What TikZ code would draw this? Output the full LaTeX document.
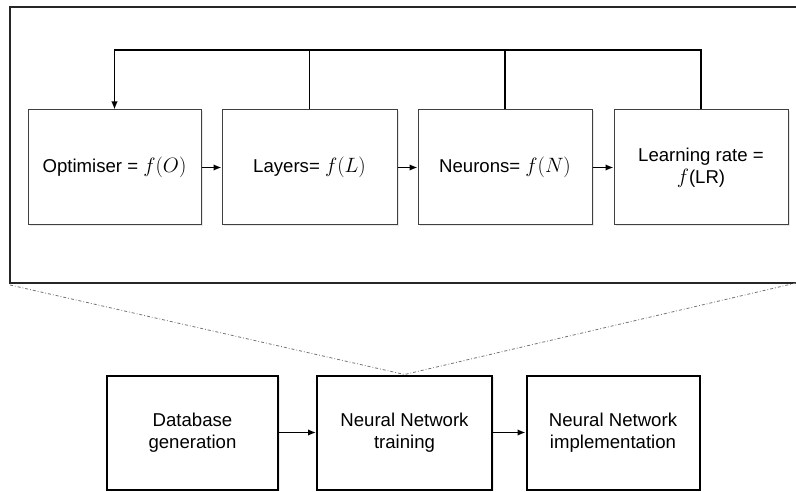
\documentclass[tikz,border=0pt]{standalone}
\usepackage{fontspec}
\setmainfont{Liberation Sans}
\usetikzlibrary{arrows.meta,shadows}
% math set a little larger to sit well beside the sans text
\newcommand{\fmath}[1]{{\fontsize{21}{22}\selectfont$#1$}}
\begin{document}
\begin{tikzpicture}[x=1pt,y=-1pt,
  font=\fontsize{18.6}{22}\selectfont,
  stage/.style={draw=black!75, line width=1pt, fill=white, align=center,
    minimum height=115pt, inner sep=2pt,
    drop shadow={opacity=0.18, shadow xshift=1.5pt, shadow yshift=-1.5pt}},
  phase/.style={draw=black, line width=2pt, fill=white, align=center,
    minimum height=114pt, inner sep=2pt,
    drop shadow={opacity=0.15, shadow xshift=1.5pt, shadow yshift=-1.5pt}},
  tip/.style={-{Latex[length=8pt,width=6.5pt]}},
  flow/.style={line width=1.5pt, tip},
  link/.style={line width=1.5pt},
  zoomline/.style={draw=black!55, line width=0.8pt, dash dot}]
\useasboundingbox (0,0) rectangle (796,492);

% enclosing frame of the hyperparameter loop
\draw[line width=1.8pt, draw=black!85] (797,7) -- (10,7) -- (10,283) -- (797,283);

% hyperparameter stages
\node[stage, minimum width=173pt] (opt) at (114.5,167.5) {Optimiser = \fmath{f(O)}};
\node[stage, minimum width=175pt] (lay) at (309.5,167.5) {Layers= \fmath{f(L)}};
\node[stage, minimum width=174pt] (neu) at (505,167.5) {Neurons= \fmath{f(N)}};
\node[stage, minimum width=174pt] (lr)  at (701,167.5) {Learning rate =\\\fmath{f}(LR)};

\draw[flow] (opt) -- (lay);
\draw[flow] (lay) -- (neu);
\draw[flow] (neu) -- (lr);

% feedback loop
\coordinate (fb) at (0,50);
\draw[link, tip] (lr.north) -- (lr.north |- fb) -- (opt.north |- fb) -- (opt.north);
\draw[link] (lay.north) -- (lay.north |- fb);
\draw[link] (neu.north) -- (neu.north |- fb);

% workflow phases
\node[phase, minimum width=171pt] (db)  at (192.5,432.5) {Database\\generation};
\node[phase, minimum width=175pt] (nnt) at (404.5,432.5) {Neural Network\\training};
\node[phase, minimum width=173pt] (nni) at (613,432.5) {Neural Network\\implementation};

\draw[flow] (db) -- (nnt);
\draw[flow] (nnt) -- (nni);

% zoom lines from the training phase to the frame
\coordinate (zl) at (10,285);
\coordinate (zr) at (796,283);
\draw[zoomline] (zl) -- (nnt.north) -- (zr);
\end{tikzpicture}
\end{document}
